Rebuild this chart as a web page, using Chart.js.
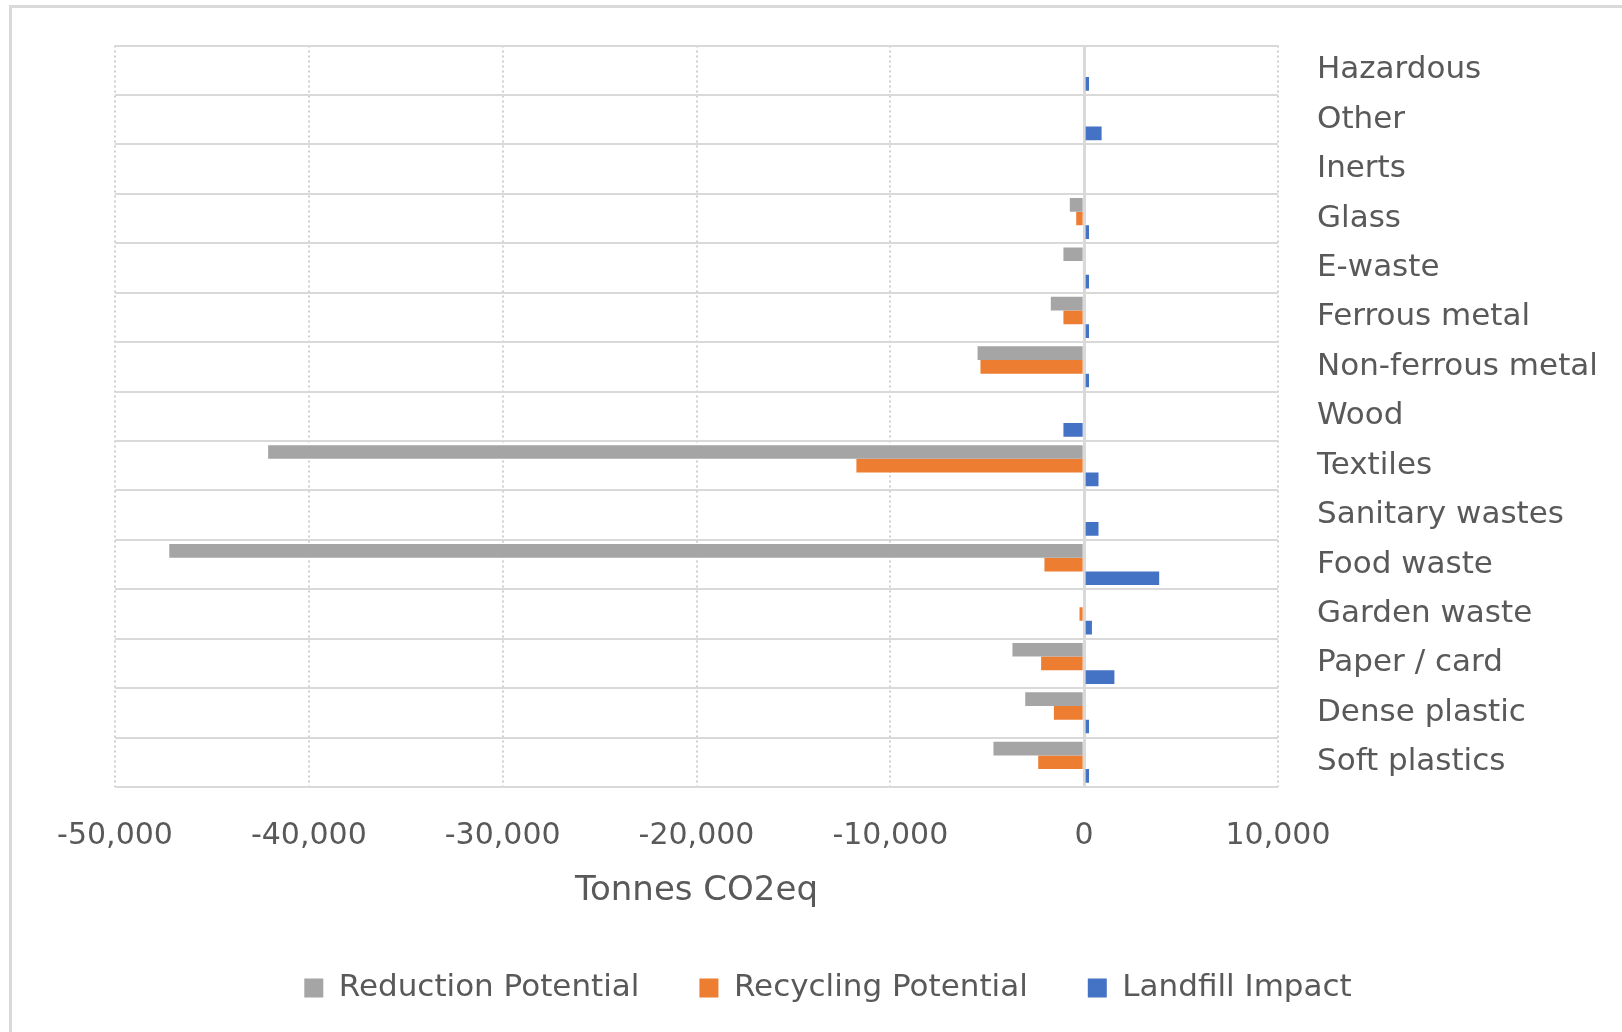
<!DOCTYPE html>
<html>
<head>
<meta charset="utf-8">
<title>Tonnes CO2eq by waste stream</title>
<script src="https://cdn.jsdelivr.net/npm/chart.js@4.4.0/dist/chart.umd.min.js"></script>
<style>
  html, body { margin: 0; padding: 0; background: #ffffff; }
  body { width: 1622px; height: 1032px; overflow: hidden; position: relative; }
  /* light outline of the chart panel */
  #frame {
    position: absolute; left: 9px; top: 5px; width: 1700px; height: 1100px;
    border-left: 3px solid #d9d9d9; border-top: 3px solid #d9d9d9;
    box-sizing: border-box;
  }
  #wrap { position: absolute; left: 0; top: 0; width: 1622px; height: 1032px; }
</style>
</head>
<body>
<div id="frame"></div>
<div id="wrap"><canvas id="chart"></canvas></div>
<script>
// Waste streams, listed top to bottom
const categories = [
  'Hazardous', 'Other', 'Inerts', 'Glass', 'E-waste', 'Ferrous metal',
  'Non-ferrous metal', 'Wood', 'Textiles', 'Sanitary wastes', 'Food waste',
  'Garden waste', 'Paper / card', 'Dense plastic', 'Soft plastics'
];

// Tonnes CO2eq per stream
const reductionPotential = [0, 0, 0, -740, -1070, -1720, -5500, 0, -42100, 0, -47200, 0, -3700, -3040, -4680];
const recyclingPotential = [0, 0, 0, -410, -80, -1070, -5350, 0, -11750, 0, -2050, -240, -2220, -1560, -2370];
const landfillImpact     = [250, 900, 0, 250, 250, 250, 250, -1070, 740, 740, 3870, 400, 1560, 250, 250];

const seriesNames = ['Reduction Potential', 'Recycling Potential', 'Landfill Impact'];
const seriesColors = ['#a5a5a5', '#ed7d31', '#4472c4'];

// Value axis range and tick spacing
const axisMin = -50000;
const axisMax = 10000;
const axisStep = 10000;
const axisTitle = 'Tonnes CO2eq';

const textColor = '#595959';
const gridColor = '#d9d9d9';
const family = "'DejaVu Sans', sans-serif";

const seriesValues = [reductionPotential, recyclingPotential, landfillImpact];

new Chart(document.getElementById('chart'), {
  type: 'bar',
  data: {
    labels: categories,
    datasets: seriesNames.map((name, i) => ({
      label: name,
      data: seriesValues[i],
      backgroundColor: seriesColors[i],
      borderWidth: 0,
      categoryPercentage: 0.83,
      barPercentage: 1.0
    }))
  },
  options: {
    indexAxis: 'y',
    responsive: true,
    maintainAspectRatio: false,
    animation: false,
    events: [],
    layout: { padding: { left: 34, right: 0, top: 45.5, bottom: 18.6 } },
    plugins: {
      tooltip: { enabled: false },
      legend: {
        position: 'bottom',
        labels: {
          color: textColor,
          font: { family, size: 31 },
          boxWidth: 19,
          boxHeight: 19,
          padding: 60
        }
      }
    },
    scales: {
      x: {
        type: 'linear',
        min: axisMin,
        max: axisMax,
        afterFit: (scale) => {
          scale.paddingLeft = 115;
          scale.height = 125.4;
        },
        ticks: {
          stepSize: axisStep,
          padding: 31,
          color: textColor,
          font: { family, size: 30 },
          maxRotation: 0,
          callback: (v) => Number(v).toLocaleString('en-US')
        },
        grid: {
          color: (ctx) => (ctx.tick && ctx.tick.value === 0 ? gridColor : '#d0d0d0'),
          drawTicks: false,
          lineWidth: (ctx) => (ctx.tick && ctx.tick.value === 0 ? 3 : 2)
        },
        border: {
          display: false,
          dash: (ctx) => (ctx.tick && ctx.tick.value === 0 ? [] : [2, 3])
        },
        title: {
          display: true,
          text: axisTitle,
          color: textColor,
          font: { family, size: 34 },
          padding: { top: 18, bottom: 1 }
        }
      },
      y: {
        type: 'category',
        position: 'right',
        afterFit: (scale) => {
          scale.width = 344;
          scale.paddingTop = 0;
          scale.paddingBottom = 0;
        },
        ticks: {
          padding: 39,
          color: textColor,
          font: { family, size: 31 },
          autoSkip: false
        },
        grid: {
          color: gridColor,
          lineWidth: 2,
          drawTicks: false
        },
        border: { display: false }
      }
    }
  }
});
</script>
</body>
</html>
